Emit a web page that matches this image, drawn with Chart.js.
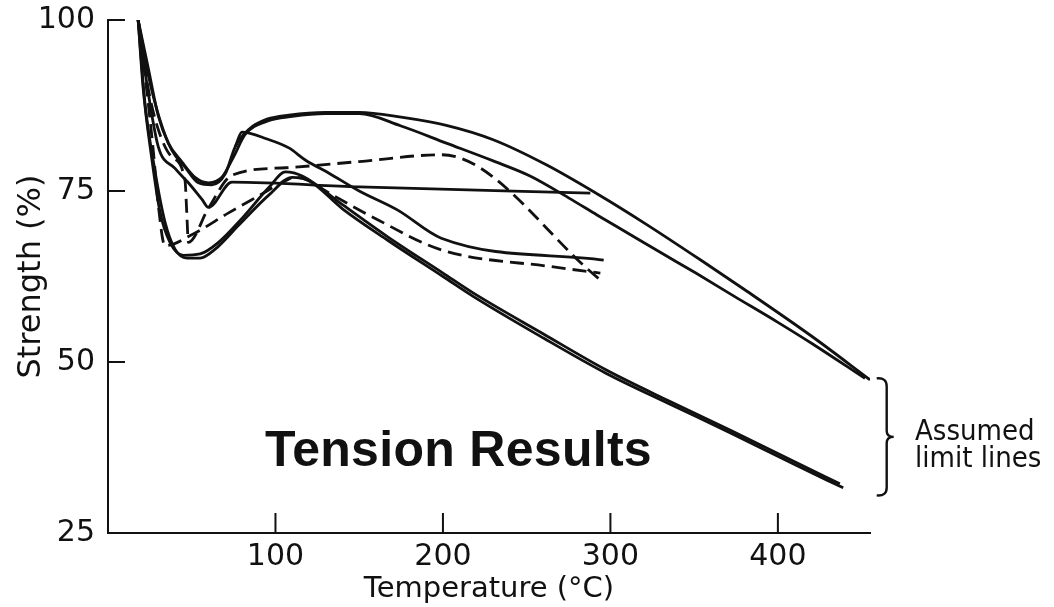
<!DOCTYPE html>
<html>
<head>
<meta charset="utf-8">
<script src="https://cdn.jsdelivr.net/npm/chart.js@4"></script>
<style>
  html, body { margin: 0; padding: 0; background: #fff; }
  #wrap { position: relative; width: 1054px; height: 607px; overflow: hidden; }
  #chart { position: absolute; left: 0; top: 0; }
  .note { position: absolute; color: #111; white-space: nowrap; }
  #tension { left: 265px; top: 424px; font: bold 50px "Liberation Sans", Arial, sans-serif; line-height: 50px; letter-spacing: 0.3px; }
  #limits { left: 915px; top: 417px; font: 29px "DejaVu Sans Condensed", "DejaVu Sans", sans-serif; line-height: 27px; }
</style>
</head>
<body>
<div id="wrap">
  <canvas id="chart" width="1054" height="607"></canvas>
  <div class="note" id="tension">Tension Results</div>
  <div class="note" id="limits">Assumed<br>limit lines</div>
</div>
<script>
// ── DATA (temperature °C / strength %) ──
const xTicks = [100, 200, 300, 400];
const yTicks = [25, 50, 75, 100];

const upperLimitT  = [18, 24, 31, 38, 46, 54, 62, 70, 76, 84, 95, 108, 130, 150, 175, 202, 230, 262, 292, 321, 357, 380, 420, 455];
const upperLimitS  = [100, 92, 85.4, 81, 78.5, 76.2, 75.9, 77.5, 81.5, 84, 85.5, 86.1, 86.5, 86.5, 85.8, 84.6, 82.5, 78.8, 74.6, 70.2, 64.4, 60.6, 53.8, 47.4];

const upperSecondT = [18, 24, 30, 36, 44, 52, 60, 68, 75, 82, 95, 110, 130, 150, 175, 202, 230, 252, 275, 292, 310, 330, 351, 374, 400, 421, 452];
const upperSecondS = [100, 93, 86, 82, 79.3, 77, 76.2, 77, 80, 83.3, 85.2, 85.9, 86.3, 86.3, 84.5, 82, 79.4, 77.2, 74, 71.5, 68.9, 66, 63, 59.6, 55.8, 52.6, 47.6];

const lowerLimitT  = [18, 22, 28, 34, 40, 47, 55, 64, 78, 96, 110, 120, 140, 167, 200, 218, 260, 297, 335, 372, 410, 439];
const lowerLimitS  = [100, 88, 78, 70.5, 66.5, 65.2, 65.2, 66.5, 70, 74.4, 77, 76.5, 72.4, 67.8, 62.5, 59.6, 53.5, 48.4, 43.9, 39.6, 35, 31.6];

const lowerSecondT = [18, 21, 26, 31, 37, 45, 55, 66, 80, 96, 106, 116, 140, 167, 200, 218, 260, 297, 335, 372, 410, 437];
const lowerSecondS = [100, 90, 80, 72, 67.5, 65.6, 65.8, 67.5, 71, 75.5, 77.8, 77.2, 73, 68.3, 63, 60.1, 54.1, 48.9, 44.3, 40, 35.4, 32.2];

const midDropT     = [76, 80, 95, 108, 118, 132, 150, 173, 199, 296];
const midDropS     = [81.5, 83.6, 82.6, 81.3, 79.5, 77.6, 75, 72.2, 68.1, 64.9];

const flatRunT     = [18, 23, 30, 40, 48, 56, 60, 74, 150, 288];
const flatRunS     = [100, 91, 81.5, 78.3, 76.2, 73.8, 72.6, 76.3, 75.6, 74.7];

const dashLongT    = [18, 24, 30, 38, 46, 47, 48, 60, 74, 106, 150, 199, 294];
const dashLongS    = [100, 90, 84, 80, 76.5, 72, 67.5, 72.5, 77.3, 78.4, 79.3, 80.3, 62];

const dashLowT     = [18, 23, 27, 30, 34, 50, 72, 90, 106, 112, 120, 130, 161, 199, 266, 294];
const dashLowS     = [100, 90, 81, 73, 67, 68.6, 71.8, 74.3, 76.5, 77, 76.5, 75, 70.8, 66.4, 63.9, 63];

// brace beside the two limit lines (in data units)
const braceT = 459, braceTop = 47.6, braceBottom = 30.5;

const pts = (xs, ys) => xs.map((x, i) => ({ x, y: ys[i] }));
const INK = '#111';

function curve(label, xs, ys, opts = {}) {
  return Object.assign({
    label,
    data: pts(xs, ys),
    borderColor: INK,
    borderWidth: 2.8,
    pointRadius: 0,
    fill: false,
    tension: 0.35,
    cubicInterpolationMode: 'monotone'
  }, opts);
}

// ── inward tick marks + brace ──
const inkPlugin = {
  id: 'ink',
  afterDraw(chart) {
    const { ctx, scales: { x, y } } = chart;
    ctx.save();
    ctx.strokeStyle = INK;
    ctx.lineWidth = 2;
    ctx.beginPath();
    xTicks.forEach(v => {
      const px = x.getPixelForValue(v);
      ctx.moveTo(px, y.bottom);
      ctx.lineTo(px, y.bottom - 20);
    });
    yTicks.forEach(v => {
      if (v === y.min) return;
      const py = y.getPixelForValue(v);
      ctx.moveTo(x.left, py);
      ctx.lineTo(x.left + 17, py);
    });
    ctx.stroke();

    const bx = x.getPixelForValue(braceT);
    const t = y.getPixelForValue(braceTop);
    const b = y.getPixelForValue(braceBottom);
    const m = (t + b) / 2;
    ctx.lineWidth = 2.4;
    ctx.beginPath();
    ctx.moveTo(bx, t);
    ctx.quadraticCurveTo(bx + 10, t - 1, bx + 10, t + 8);
    ctx.lineTo(bx + 10, m - 6);
    ctx.quadraticCurveTo(bx + 10, m, bx + 17, m);
    ctx.quadraticCurveTo(bx + 10, m, bx + 10, m + 6);
    ctx.lineTo(bx + 10, b - 8);
    ctx.quadraticCurveTo(bx + 10, b + 1, bx, b);
    ctx.stroke();
    ctx.restore();
  }
};

const tickFont = { family: 'DejaVu Sans', size: 30 };
const titleFont = { family: 'DejaVu Sans', size: 29 };

new Chart(document.getElementById('chart'), {
  type: 'line',
  data: {
    datasets: [
      curve('Upper limit', upperLimitT, upperLimitS),
      curve('Upper 2', upperSecondT, upperSecondS),
      curve('Lower limit', lowerLimitT, lowerLimitS),
      curve('Lower 2', lowerSecondT, lowerSecondS),
      curve('Mid drop', midDropT, midDropS),
      curve('Flat run', flatRunT, flatRunS, { tension: 0 }),
      curve('Dashed long', dashLongT, dashLongS, { tension: 0, borderDash: [14, 7] }),
      curve('Dashed low', dashLowT, dashLowS, { borderDash: [14, 7] })
    ]
  },
  options: {
    responsive: false,
    animation: false,
    events: [],
    layout: { padding: { left: 0, top: 20, right: 184, bottom: 0 } },
    plugins: { legend: { display: false }, tooltip: { enabled: false } },
    scales: {
      x: {
        type: 'linear',
        min: 0, max: 455,
        afterFit: s => { s.height = 74; s.paddingLeft = 0; s.paddingRight = 0; },
        afterBuildTicks: s => { s.ticks = xTicks.map(v => ({ value: v })); },
        grid: { display: false, drawTicks: false },
        border: { display: true, color: INK, width: 2 },
        ticks: { color: INK, font: tickFont, padding: 6, maxRotation: 0 },
        title: { display: true, text: 'Temperature (°C)', color: INK, font: titleFont, padding: { top: 0, bottom: 0 } }
      },
      y: {
        min: 25, max: 100,
        afterFit: s => { s.width = 108; s.paddingTop = 0; s.paddingBottom = 0; },
        afterBuildTicks: s => { s.ticks = yTicks.map(v => ({ value: v })); },
        grid: { display: false, drawTicks: false },
        border: { display: true, color: INK, width: 2 },
        ticks: { color: INK, font: tickFont, padding: 13 },
        title: { display: true, text: 'Strength (%)', color: INK, font: { family: 'DejaVu Sans', size: 32 }, padding: { top: 12, bottom: 0 } }
      }
    }
  },
  plugins: [inkPlugin]
});
</script>
</body>
</html>
